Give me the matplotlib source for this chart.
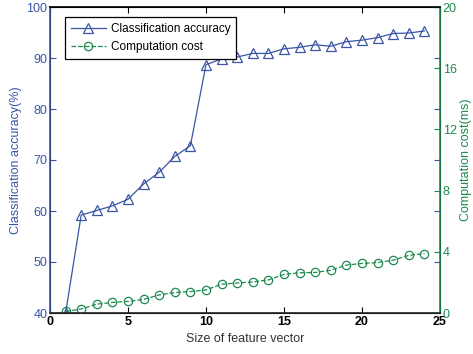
import numpy as np
import matplotlib.pyplot as plt

plt.rcParams['font.family'] = ['Liberation Sans', 'DejaVu Sans']

feature_size = list(range(1, 25))
accuracy = [40.0, 59.2, 60.1, 61.0, 62.3, 65.3, 67.6, 70.7, 72.8, 88.7,
            89.8, 90.2, 90.9, 90.9, 91.8, 92.1, 92.6, 92.3, 93.2, 93.5,
            94.0, 94.8, 94.9, 95.3]
cost = [0.1, 0.26, 0.58, 0.69, 0.76, 0.89, 1.18, 1.34, 1.4, 1.51,
        1.88, 1.96, 2.03, 2.16, 2.52, 2.63, 2.65, 2.8, 3.13, 3.24,
        3.3, 3.45, 3.77, 3.88]
x_ticks = [0, 5, 10, 15, 20, 25]

blue = '#3b55a6'
green = '#1d8a4e'

fig = plt.figure(figsize=(4.73, 3.54), dpi=100)
ax = fig.add_axes([50/473, 1-313/354, 390/473, 306/354])
ax2 = ax.twinx()

l1, = ax.plot(feature_size, accuracy, '-^', color=blue, lw=0.9,
              markerfacecolor='none', markersize=7, markeredgewidth=0.9,
              label='Classification accuracy')
l2, = ax2.plot(feature_size, cost, '--o', color=green, lw=0.9,
               markerfacecolor='none', markersize=6, markeredgewidth=0.9,
               label='Computation cost')

ax.set_xlim(0, 25)
ax.set_ylim(40, 100)
ax2.set_ylim(0, 20)
ax.set_xticks(x_ticks, labels=[str(t) for t in x_ticks], fontweight='bold')
ax.set_yticks(np.arange(40, 101, 10))
ax2.set_yticks(np.arange(0, 21, 4))

ax.tick_params(axis='x', direction='in', top=True, labelsize=9, colors='black', pad=2, length=4)
ax.tick_params(axis='y', direction='in', colors=blue, labelcolor=blue, labelsize=9, right=True, pad=2, length=4)
ax2.tick_params(axis='y', direction='in', colors=green, labelcolor=green, labelsize=9, pad=2, length=4)

ax2.spines['left'].set_color(blue)
ax2.spines['right'].set_color(green)
ax2.spines['top'].set_color('black')
ax2.spines['bottom'].set_color('#222222')
for sp in ['left', 'right', 'top', 'bottom']:
    ax2.spines[sp].set_linewidth(1.2)

ax.set_xlabel('Size of feature vector', fontsize=9, color='#333333', labelpad=4)
ax.set_ylabel('Classification accuracy(%)', fontsize=9, color=blue, labelpad=3)
ax2.set_ylabel('Computation cost(ms)', fontsize=9, color=green, labelpad=2)

leg = ax2.legend([l1, l2], ['Classification accuracy', 'Computation cost'],
                 loc='upper left', bbox_to_anchor=(0.023, 0.985), fontsize=8.5,
                 fancybox=False, edgecolor='black', framealpha=1,
                 handlelength=3.0, handletextpad=0.4, borderpad=0.5, labelspacing=0.5)
leg.get_frame().set_linewidth(0.9)

fig.savefig('out.png', dpi=100)
